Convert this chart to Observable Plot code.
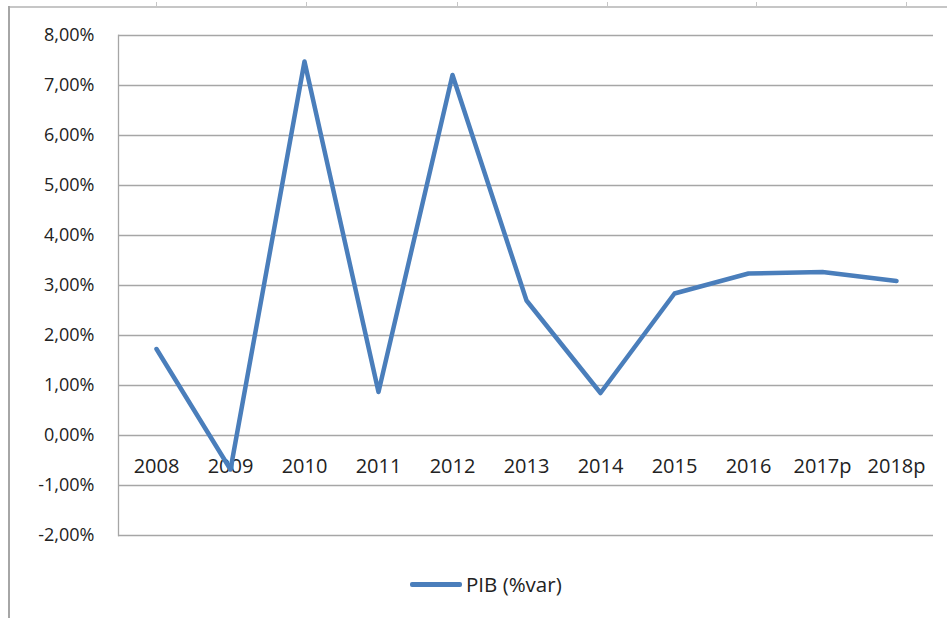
<!DOCTYPE html>
<html>
<head>
<meta charset="utf-8">
<script src="https://cdn.jsdelivr.net/npm/d3@7"></script>
<script src="https://cdn.jsdelivr.net/npm/@observablehq/plot@0.6"></script>
<style>
  html, body { margin: 0; padding: 0; background: #fff; }
  #wrap { position: relative; width: 947px; height: 618px; overflow: hidden; font-family: "Open Sans", sans-serif; }
  .frame-top { position: absolute; left: 9px; top: 6px; width: 938px; height: 2px; background: #c6c6c6; }
  .frame-left { position: absolute; left: 8px; top: 6px; width: 2px; height: 612px; background: #a6a6a6; }
  .tick { position: absolute; top: 2px; width: 1px; height: 5px; background: #c6c6c6; }
  #chart { position: absolute; left: 0; top: 0; }
  #legend { position: absolute; left: 0; top: 560px; width: 947px; height: 58px; }
  #legend .item { position: absolute; left: 410px; top: 10px; display: flex; align-items: center; }
  #legend .swatch { width: 52px; height: 5px; background: #4a7ebb; border-radius: 2px; margin-right: 4px; }
  #legend .label { font-size: 20.5px; color: #222; }
</style>
</head>
<body>
<div id="wrap">
  <div class="frame-top"></div>
  <div class="frame-left"></div>
  <div id="chart"></div>
  <div id="legend"><div class="item"><div class="swatch"></div><div class="label"></div></div></div>
</div>
<script>
const years = ["2008", "2009", "2010", "2011", "2012", "2013", "2014", "2015", "2016", "2017p", "2018p"];
const pib = [1.73, -0.68, 7.48, 0.87, 7.21, 2.70, 0.85, 2.84, 3.24, 3.27, 3.09];
const yTicks = [-2, -1, 0, 1, 2, 3, 4, 5, 6, 7, 8];
const seriesName = "PIB (%var)";
const frameTicks = [156, 306, 457, 607, 756, 906];

const data = years.map((y, i) => ({year: y, value: pib[i]}));
const fmt = d => d.toFixed(2).replace(".", ",") + "%";

const chart = Plot.plot({
  width: 947,
  height: 560,
  marginLeft: 118,
  marginRight: 14,
  marginTop: 35,
  marginBottom: 25,
  style: {fontFamily: "Open Sans, sans-serif", background: "transparent", color: "#222"},
  x: {type: "point", domain: years, padding: 0.5, axis: null},
  y: {domain: [-2, 8], axis: null},
  marks: [
    Plot.ruleY(yTicks, {stroke: "#a6a6a6", strokeWidth: 1.3}),
    Plot.frame({anchor: "left", stroke: "#a6a6a6", strokeWidth: 1.3}),
    Plot.axisY(yTicks, {tickSize: 0, tickPadding: 24, tickFormat: fmt, fontSize: 18, fill: "#222", label: null}),
    Plot.text(data, {x: "year", y: () => 0, dy: 31, text: "year", fontSize: 20, fill: "#222"}),
    Plot.line(data, {x: "year", y: "value", stroke: "#4a7ebb", strokeWidth: 4.5, strokeLinejoin: "round"})
  ]
});
document.getElementById("chart").appendChild(chart);
document.querySelector("#legend .label").textContent = seriesName;

const wrap = document.getElementById("wrap");
frameTicks.forEach(x => {
  const t = document.createElement("div");
  t.className = "tick";
  t.style.left = x + "px";
  wrap.appendChild(t);
});
</script>
</body>
</html>
